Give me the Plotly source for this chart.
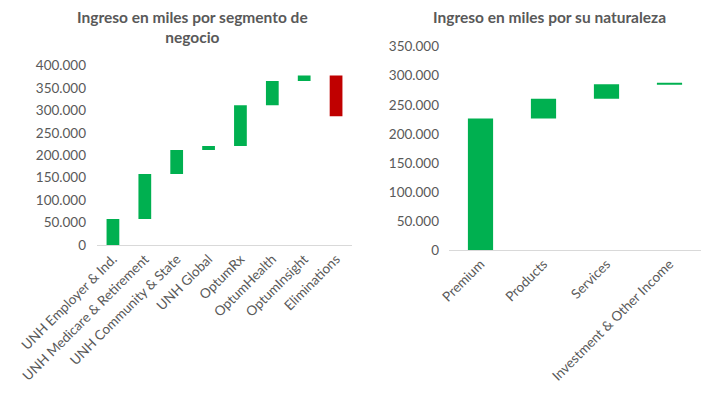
import plotly.graph_objects as go

seg_labels = ["UNH Employer & Ind.", "UNH Medicare & Retirement", "UNH Community & State",
              "UNH Global", "OptumRx", "OptumHealth", "OptumInsight", "Eliminations"]
seg_values = [58000, 100400, 53500, 8800, 91300, 54100, 12000, -90700]

nat_labels = ["Premium", "Products", "Services", "Investment & Other Income"]
nat_values = [226200, 34400, 24600, 2400]

left_ticks = [0, 50000, 100000, 150000, 200000, 250000, 300000, 350000, 400000]
right_ticks = [0, 50000, 100000, 150000, 200000, 250000, 300000, 350000]

GREEN = "#00B050"
RED = "#C00000"
GRAY = "#595959"
FONT = "Lato"
OFF = 8  # page body margin
W, H = 728 - 2 * OFF, 397 - 2 * OFF


def fx(px):
    return (px - OFF) / W


def fy(py):
    return 1 - (py - OFF) / H


fig = go.Figure()
fig.add_trace(go.Waterfall(
    x=seg_labels, y=seg_values, measure=["relative"] * len(seg_values),
    increasing=dict(marker=dict(color=GREEN)),
    decreasing=dict(marker=dict(color=RED)),
    connector=dict(visible=False), xaxis="x", yaxis="y",
    hoverinfo="x+y", showlegend=False))
fig.add_trace(go.Waterfall(
    x=nat_labels, y=nat_values, measure=["relative"] * len(nat_values),
    increasing=dict(marker=dict(color=GREEN)),
    decreasing=dict(marker=dict(color=RED)),
    connector=dict(visible=False), xaxis="x2", yaxis="y2",
    hoverinfo="x+y", showlegend=False))

axis_common = dict(showgrid=False, zeroline=False, automargin=False,
                   tickfont=dict(family=FONT, size=13.5, color=GRAY))

fig.update_layout(
    width=W, height=H, margin=dict(l=0, r=0, t=0, b=0),
    paper_bgcolor="white", plot_bgcolor="white",
    separators=",.", waterfallgap=0.6,
    font=dict(family=FONT, color=GRAY),
    xaxis=dict(domain=[fx(97), fx(352)], anchor="y", tickangle=-45,
               showline=True, linecolor="#D9D9D9", linewidth=1, ticks="",
               **axis_common),
    yaxis=dict(domain=[fy(245), fy(65.7)], anchor="x",
               range=[0, 400000], tickvals=left_ticks, tickformat=",.0f",
               showline=False, ticks="", ticklabelstandoff=10, **axis_common),
    xaxis2=dict(domain=[fx(449), fx(701)], anchor="y2", tickangle=-45,
                showline=True, linecolor="#D9D9D9", linewidth=1, ticks="",
                **axis_common),
    yaxis2=dict(domain=[fy(250), fy(46.7)], anchor="x2",
                range=[0, 350000], tickvals=right_ticks, tickformat=",.0f",
                showline=False, ticks="", ticklabelstandoff=9, **axis_common),
    annotations=[
        dict(text="<b>Ingreso en miles por segmento de<br>negocio</b>",
             x=fx(192), y=fy(6), xref="paper", yref="paper",
             xanchor="center", yanchor="top", showarrow=False,
             font=dict(family=FONT, size=15.5, color=GRAY)),
        dict(text="<b>Ingreso en miles por su naturaleza</b>",
             x=fx(549), y=fy(6), xref="paper", yref="paper",
             xanchor="center", yanchor="top", showarrow=False,
             font=dict(family=FONT, size=15.5, color=GRAY)),
    ],
)

fig.write_html("out.html")
